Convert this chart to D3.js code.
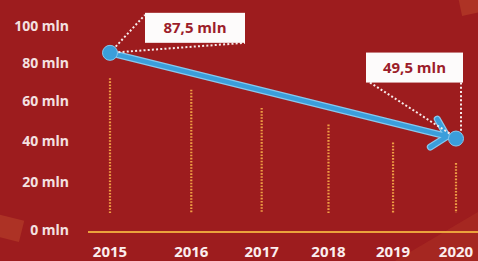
<!DOCTYPE html>
<html>
<head>
<meta charset="utf-8">
<script src="https://cdn.jsdelivr.net/npm/d3@7"></script>
<style>
  html, body { margin: 0; padding: 0; background: #9d1c1e; }
  svg { display: block; font-family: "Open Sans", "DejaVu Sans", sans-serif; }
</style>
</head>
<body>
<svg width="478" height="261"></svg>
<script>
var years = [2015, 2016, 2017, 2018, 2019, 2020];
var yTicks = [0, 20, 40, 60, 80, 100];
// top of each dotted column, and the common base value
var columnTops = [72, 66, 56.5, 48, 39, 29];
var columnBase = 6.3;
// trend arrow end points and their callouts
var trendYears = [2015, 2020];
var trendValues = [85.5, 41];
var calloutLabels = ["87,5 mln", "49,5 mln"];

var svg = d3.select("svg"),
  width = +svg.attr("width"),
  height = +svg.attr("height");

// the picture is slightly in perspective, hence pow scales
var x = d3.scalePow().exponent(0.9).domain([0, 5]).range([110, 456]);
var y = d3.scalePow().exponent(0.9).domain([0, 100]).range([230, 26]);
function xy(yr) { return x(yr - years[0]); }

svg.append("rect")
  .attr("width", width).attr("height", height)
  .attr("fill", "#9d1c1e");

// soft decorations
svg.append("path")
  .attr("d", "M395,261 L478,212 L478,261 Z")
  .attr("fill", "#a82a22").attr("opacity", 0.8);
svg.append("rect")
  .attr("x", 460).attr("y", -6).attr("width", 24).attr("height", 20)
  .attr("transform", "rotate(-12,470,5)")
  .attr("fill", "#c04a2c").attr("opacity", 0.5);
svg.append("rect")
  .attr("x", -8).attr("y", 217).attr("width", 30).attr("height", 22)
  .attr("transform", "rotate(14,8,228)")
  .attr("fill", "#bd482c").attr("opacity", 0.5);

// y labels
var yAxis = svg.append("g")
  .attr("transform", "translate(69,0)")
  .call(d3.axisLeft(y).tickValues(yTicks).tickSize(0).tickPadding(0)
    .tickFormat(function(d) { return d + " mln"; }));
yAxis.select(".domain").remove();
yAxis.selectAll("text")
  .attr("fill", "#f4e1e1")
  .attr("font-size", 14)
  .attr("font-weight", 700)
  .attr("font-family", "'Open Sans', sans-serif");

// baseline
svg.append("line")
  .attr("x1", 88).attr("x2", width)
  .attr("y1", y(0) + 2).attr("y2", y(0) + 2)
  .attr("stroke", "#eba23c").attr("stroke-width", 2);

// x labels
svg.append("g").selectAll("text")
  .data(years)
  .enter().append("text")
  .attr("x", function(d) { return xy(d); })
  .attr("y", 257)
  .attr("text-anchor", "middle")
  .attr("fill", "#fbeeee")
  .attr("font-size", 15)
  .attr("font-weight", 700)
  .text(function(d) { return d; });

// dotted columns
svg.append("g").selectAll("line")
  .data(years)
  .enter().append("line")
  .attr("x1", function(d) { return xy(d); })
  .attr("x2", function(d) { return xy(d); })
  .attr("y1", function(d, i) { return y(columnTops[i]); })
  .attr("y2", y(columnBase))
  .attr("stroke", "#ef9f45")
  .attr("stroke-width", 2.2)
  .attr("stroke-dasharray", "1.6,1.5");

// trend arrow
var p0 = [xy(trendYears[0]), y(trendValues[0])],
  p1 = [xy(trendYears[1]), y(trendValues[1])];
var dx = p1[0] - p0[0], dy = p1[1] - p0[1],
  len = Math.sqrt(dx * dx + dy * dy),
  ux = dx / len, uy = dy / len;
var tip = [p1[0] - 9 * ux, p1[1] - 9 * uy];
var back = Math.atan2(-uy, -ux), wing = 46 * Math.PI / 180, wl = 20;
var w1 = [tip[0] + wl * Math.cos(back + wing), tip[1] + wl * Math.sin(back + wing)],
  w2 = [tip[0] + wl * Math.cos(back - wing), tip[1] + wl * Math.sin(back - wing)];

var arrow = svg.append("g");
[["#86c8ee", 7], ["#3b9edb", 4.5]].forEach(function(s) {
  arrow.append("path")
    .attr("d", d3.line()([p0, tip]) + d3.line()([w1, tip, w2]))
    .attr("fill", "none")
    .attr("stroke", s[0])
    .attr("stroke-width", s[1])
    .attr("stroke-linecap", "round")
    .attr("stroke-linejoin", "round");
});

// callouts
var boxes = [
  { x: p0[0] + 35, y: p0[1] - 40, w: 100, h: 30 },
  { x: p1[0] - 90, y: p1[1] - 86, w: 97, h: 30 }
];
var leaders = [
  [[p0, [boxes[0].x, boxes[0].y + 2]], [p0, [boxes[0].x + boxes[0].w, boxes[0].y + boxes[0].h]]],
  [[[boxes[1].x + 4, boxes[1].y + boxes[1].h], [p1[0] - 3, p1[1] - 3]],
   [[boxes[1].x + boxes[1].w - 2, boxes[1].y + boxes[1].h], [boxes[1].x + boxes[1].w - 2, p1[1] - 2]]]
];
leaders.forEach(function(pair) {
  pair.forEach(function(seg) {
    svg.append("path")
      .attr("d", d3.line()(seg))
      .attr("stroke", "#f6eaea")
      .attr("stroke-width", 2)
      .attr("stroke-dasharray", "2,2.2")
      .attr("fill", "none");
  });
});

svg.append("g").selectAll("circle")
  .data([p0, p1])
  .enter().append("circle")
  .attr("cx", function(d) { return d[0]; })
  .attr("cy", function(d) { return d[1]; })
  .attr("r", 7.5)
  .attr("fill", "#3b9edb")
  .attr("stroke", "#86c8ee")
  .attr("stroke-width", 1);

var cg = svg.append("g").selectAll("g")
  .data(boxes)
  .enter().append("g");
cg.append("rect")
  .attr("x", function(d) { return d.x; })
  .attr("y", function(d) { return d.y; })
  .attr("width", function(d) { return d.w; })
  .attr("height", function(d) { return d.h; })
  .attr("fill", "#fdfbfb");
cg.append("text")
  .attr("x", function(d) { return d.x + d.w / 2; })
  .attr("y", function(d) { return d.y + d.h / 2 + 5.5; })
  .attr("text-anchor", "middle")
  .attr("fill", "#9c1d2a")
  .attr("font-size", 15)
  .attr("font-weight", 700)
  .text(function(d, i) { return calloutLabels[i]; });
</script>
</body>
</html>
